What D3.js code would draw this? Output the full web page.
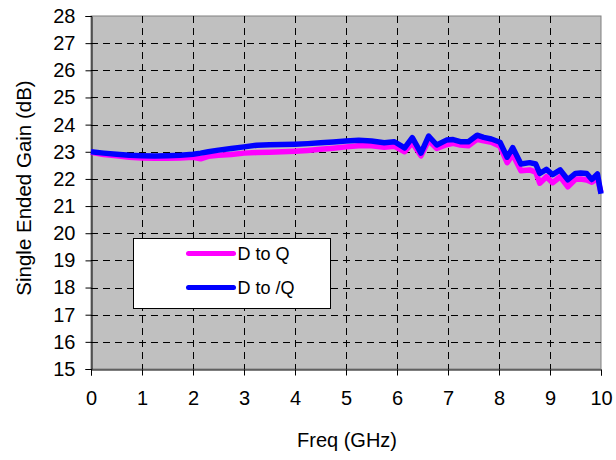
<!DOCTYPE html>
<html>
<head>
<meta charset="utf-8">
<script src="https://cdn.jsdelivr.net/npm/d3@7"></script>
<style>
  body { margin: 0; background: #fff; }
  svg { font-family: "Liberation Sans", Arial, sans-serif; }
</style>
</head>
<body>
<svg class="chart"></svg>
<script>
// Frequency points (GHz)
var freq = [0, 0.25, 0.5, 0.75, 1.0, 1.25, 1.5, 1.75, 2.0, 2.15, 2.3, 2.5, 2.75, 3.0,
    3.25, 3.5, 3.75, 4.0, 4.25, 4.5, 4.75, 5.0, 5.25, 5.5, 5.75, 5.95, 6.15, 6.3,
    6.47, 6.62, 6.78, 6.97, 7.1, 7.24, 7.4, 7.57, 7.7, 7.85, 8.02, 8.16, 8.27, 8.43,
    8.6, 8.72, 8.8, 8.93, 9.05, 9.2, 9.35, 9.5, 9.6, 9.72, 9.82, 9.93, 10.0];

// Gain D to Q (dB)
var gainQ = [22.98, 22.9, 22.85, 22.8, 22.77, 22.76, 22.76, 22.77, 22.8, 22.74, 22.83, 22.87, 22.9, 22.95,
    22.97, 22.98, 23.0, 23.02, 23.05, 23.09, 23.13, 23.18, 23.22, 23.22, 23.17, 23.2, 23.0, 23.33,
    22.85, 23.41, 23.12, 23.26, 23.31, 23.25, 23.22, 23.46, 23.4, 23.35, 23.2, 22.6, 22.9, 22.3,
    22.33, 22.25, 21.84, 22.08, 21.86, 22.08, 21.71, 21.99, 22.0, 21.96, 21.88, 22.02, 21.5];

// Gain D to /Q (dB)
var gainQb = [23.0, 22.95, 22.91, 22.87, 22.85, 22.84, 22.85, 22.87, 22.91, 22.95, 23.0, 23.06, 23.12, 23.18,
    23.24, 23.26, 23.27, 23.28, 23.3, 23.33, 23.36, 23.4, 23.42, 23.4, 23.33, 23.37, 23.14, 23.52,
    22.95, 23.58, 23.25, 23.43, 23.45, 23.37, 23.37, 23.61, 23.53, 23.47, 23.35, 22.8, 23.15, 22.55,
    22.6, 22.55, 22.2, 22.35, 22.16, 22.33, 21.97, 22.2, 22.22, 22.2, 21.98, 22.18, 21.45];

var xTicks = [0, 1, 2, 3, 4, 5, 6, 7, 8, 9, 10];
var yTicks = [15, 16, 17, 18, 19, 20, 21, 22, 23, 24, 25, 26, 27, 28];

var series = [
    {name: "D to Q", values: gainQ, color: "#ff00ff"},
    {name: "D to /Q", values: gainQb, color: "#0000ff"}
];

var width = 616, height = 460;
var plot = {left: 91, right: 601, top: 16, bottom: 369};

var svg = d3.select(".chart")
    .attr("width", width)
    .attr("height", height);

var x = d3.scaleLinear().domain([0, 10]).range([plot.left, plot.right]);
var y = d3.scaleLinear().domain([15, 28]).range([plot.bottom, plot.top]);

// Plot area background and grey frame (top / right)
svg.append("rect")
    .attr("x", plot.left).attr("y", plot.top)
    .attr("width", plot.right - plot.left).attr("height", plot.bottom - plot.top)
    .attr("fill", "#c0c0c0")
    .attr("stroke", "#808080")
    .attr("stroke-width", 1);

// Dashed gridlines
svg.append("g").selectAll("line.h")
    .data(yTicks.filter(function(d) { return d > 15 && d < 28; }))
    .enter().append("line")
    .attr("x1", plot.left).attr("x2", plot.right)
    .attr("y1", function(d) { return Math.round(y(d)) + 0.5; })
    .attr("y2", function(d) { return Math.round(y(d)) + 0.5; })
    .attr("stroke", "#000").attr("stroke-dasharray", "7,5");

svg.append("g").selectAll("line.v")
    .data(xTicks.filter(function(d) { return d > 0 && d < 10; }))
    .enter().append("line")
    .attr("x1", function(d) { return Math.round(x(d)) + 0.5; })
    .attr("x2", function(d) { return Math.round(x(d)) + 0.5; })
    .attr("y1", plot.top).attr("y2", plot.bottom)
    .attr("stroke", "#000").attr("stroke-dasharray", "7,5");

// Axes
var yAxis = d3.axisLeft(y).tickValues(yTicks).tickSize(6).tickPadding(10);
var xAxis = d3.axisBottom(x).tickValues(xTicks).tickSize(6).tickPadding(15);

var gy = svg.append("g")
    .attr("transform", "translate(" + (plot.left + 0.5) + ",0)")
    .call(yAxis);
var gx = svg.append("g")
    .attr("transform", "translate(0," + (plot.bottom + 0.5) + ")")
    .call(xAxis);

[gx, gy].forEach(function(g) {
    g.selectAll("path, line").attr("stroke", "#000");
    g.selectAll("text").attr("fill", "#000").style("font-size", "20px")
        .style("font-family", "'Liberation Sans', Arial, sans-serif");
});

// Axis titles
svg.append("text")
    .attr("x", (plot.left + plot.right) / 2 + 1)
    .attr("y", 447)
    .attr("text-anchor", "middle")
    .style("font-size", "20px")
    .text("Freq (GHz)");

svg.append("text")
    .attr("transform", "translate(31,188) rotate(-90)")
    .attr("text-anchor", "middle")
    .style("font-size", "20.5px")
    .text("Single Ended Gain (dB)");

// Data lines
var line = d3.line()
    .x(function(d, i) { return x(freq[i]); })
    .y(function(d) { return y(d); });

svg.append("g").selectAll("path")
    .data(series)
    .enter().append("path")
    .attr("d", function(s) { return line(s.values); })
    .attr("fill", "none")
    .attr("stroke", function(s) { return s.color; })
    .attr("stroke-width", 5.5)
    .attr("stroke-linejoin", "round");

// Legend
var legend = svg.append("g").attr("transform", "translate(133.5,238.5)");
legend.append("rect")
    .attr("width", 197).attr("height", 70)
    .attr("fill", "#fff").attr("stroke", "#000");

var item = legend.selectAll("g.item")
    .data(series)
    .enter().append("g")
    .attr("transform", function(d, i) { return "translate(0," + (15 + i * 34) + ")"; });

item.append("line")
    .attr("x1", 55).attr("x2", 100)
    .attr("stroke", function(d) { return d.color; })
    .attr("stroke-width", 5)
    .attr("stroke-linecap", "round");

item.append("text")
    .attr("x", 104).attr("y", 6)
    .style("font-size", "18px")
    .text(function(d) { return d.name; });
</script>
</body>
</html>
